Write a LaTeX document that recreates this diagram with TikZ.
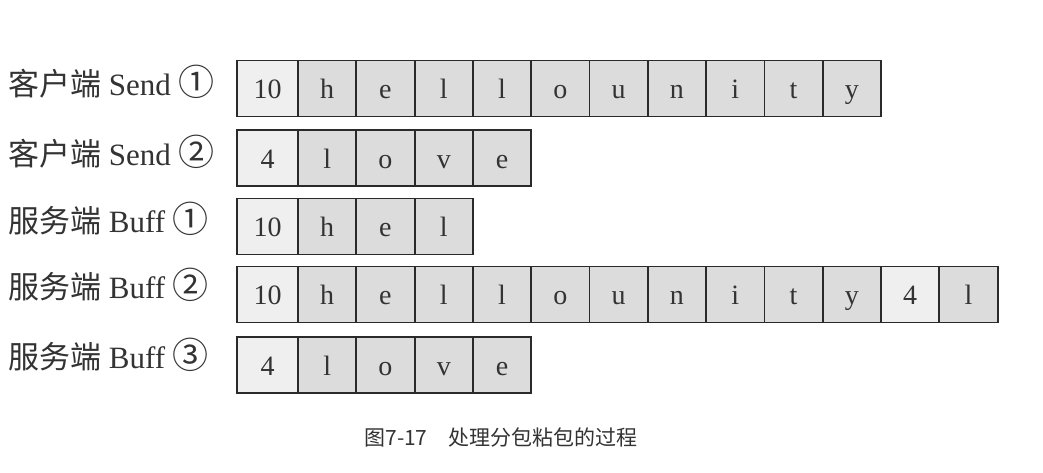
\documentclass[tikz,border=0pt]{standalone}
\usepackage{fontspec}
\setmainfont{Liberation Serif}
\newfontfamily\cjk{Noto Sans CJK SC}
\definecolor{headfill}{HTML}{EFEFEF}
\definecolor{bodyfill}{HTML}{DCDCDC}
\definecolor{edge}{HTML}{2A2A2A}
\definecolor{ink}{HTML}{333333}
\newcommand\circnum[1]{{\cjk\fontsize{36}{36}\selectfont #1}}
\tikzset{
  cellbase/.style={draw=edge, line width=1.8pt, minimum height=56pt, inner sep=0pt, outer sep=0pt,
    text=ink, font=\fontsize{28}{28}\selectfont, text height=22pt, text depth=2pt, anchor=center},
  a/.style={cellbase, fill=headfill, minimum width=58.3pt},
  b/.style={cellbase, fill=bodyfill, minimum width=58.3pt},
  headcell/.style={cellbase, fill=headfill, minimum width=61pt},
  rowlabel/.style={anchor=west, inner sep=0pt, text=ink, font=\fontsize{31}{31}\selectfont},
  caption/.style={text=ink, inner sep=0pt, font=\fontsize{21}{21}\selectfont\cjk}
}
\newcommand\pkrow[4]{%
  \node[headcell] (#1-0) at (267.5,#2) {#3};
  \foreach \t/\s [count=\i] in {#4} {
    \node[\s] (#1-\i) at ({298+(\i-1)*58.3+29.15},#2) {\t};
  }
}
\begin{document}
\begin{tikzpicture}[x=1pt,y=-1pt]
\useasboundingbox (0,0) rectangle (1043,472);
\fill[white] (0,0) rectangle (1043,472);
% rows
\pkrow{r1}{88.5}{10}{h/b,e/b,l/b,l/b,o/b,u/b,n/b,i/b,t/b,y/b}
\pkrow{r2}{158}{4}{l/b,o/b,v/b,e/b}
\pkrow{r3}{226.5}{10}{h/b,e/b,l/b}
\pkrow{r4}{294.5}{10}{h/b,e/b,l/b,l/b,o/b,u/b,n/b,i/b,t/b,y/b,4/a,l/b}
\pkrow{r5}{365}{4}{l/b,o/b,v/b,e/b}
% labels
\node[rowlabel] (l1) at (8,82) {{\cjk 客户端} Send \circnum{①}};
\node[rowlabel] (l2) at (8,152) {{\cjk 客户端} Send \circnum{②}};
\node[rowlabel] (l3) at (8,219) {{\cjk 服务端} Buff \circnum{①}};
\node[rowlabel] (l4) at (8,285) {{\cjk 服务端} Buff \circnum{②}};
\node[rowlabel] (l5) at (8,355) {{\cjk 服务端} Buff \circnum{③}};
% caption
\node[caption] (cap) at (501,437) {图7-17\quad 处理分包粘包的过程};
\end{tikzpicture}
\end{document}
